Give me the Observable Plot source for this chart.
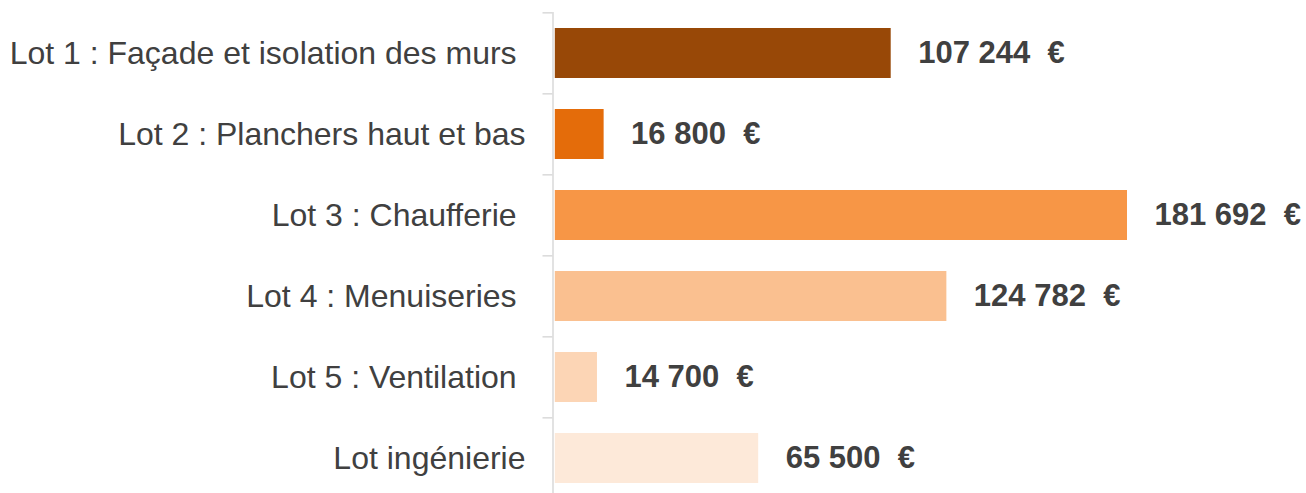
<!DOCTYPE html>
<html>
<head>
<meta charset="utf-8">
<script src="https://cdn.jsdelivr.net/npm/d3@7"></script>
<script src="https://cdn.jsdelivr.net/npm/@observablehq/plot@0.6"></script>
<style>
  html, body { margin: 0; padding: 0; background: #fff; }
  #chart svg { display: block; }
</style>
</head>
<body>
<div id="chart"></div>
<script>
const categories = [
  "Lot 1 : Façade et isolation des murs",
  "Lot 2 : Planchers haut et bas",
  "Lot 3 : Chaufferie",
  "Lot 4 : Menuiseries",
  "Lot 5 : Ventilation",
  "Lot ingénierie"
];
const labels = [
  "Lot 1 : Façade et isolation des murs\u00a0",
  "Lot 2 : Planchers haut et bas",
  "Lot 3 : Chaufferie\u00a0",
  "Lot 4 : Menuiseries\u00a0",
  "Lot 5 : Ventilation\u00a0",
  "Lot ingénierie"
];
const values = [107244, 16800, 181692, 124782, 14700, 65500];
const colors = ["#984807", "#E46C0A", "#F79646", "#FAC090", "#FCD5B5", "#FDE9D9"];

const data = categories.map((c, i) => ({cat: c, label: labels[i], value: values[i], color: colors[i]}));
const fmt = v => d3.format(",")(v).replace(/,/g, "\u00a0") + "\u00a0\u00a0€";

const yRange = [12, 500];
const step = (yRange[1] - yRange[0]) / categories.length;
const pad = 0.38;

const chart = Plot.plot({
  width: 1306,
  height: 493,
  marginTop: 12,
  marginBottom: 0,
  marginLeft: 550,
  marginRight: 179,
  style: {fontFamily: "'Liberation Sans', Arial, sans-serif", background: "#fff"},
  x: {domain: [0, 181692], range: [550.3, 1127], axis: null},
  y: {domain: categories, range: yRange, paddingInner: pad, paddingOuter: pad / 2, axis: null},
  marks: [
    Plot.barX(data, {y: "cat", x: "value", fill: "color", insetLeft: 4.5}),
    Plot.ruleX([0], {dx: 2.2, stroke: "#d9d9d9", strokeWidth: 1.5}),
    Plot.axisY({anchor: "left", text: null, label: null, tickSize: 10, dx: 2.5, dy: -step / 2, stroke: "#d9d9d9", strokeWidth: 1.5}),
    Plot.text(data, {y: "cat", frameAnchor: "left", text: "label", textAnchor: "end", dx: -25, fontSize: 32, fill: "#404040"}),
    Plot.text(data, {y: "cat", x: "value", text: d => fmt(d.value), textAnchor: "start", dx: 27, fontSize: 31, fontWeight: "bold", fill: "#404040"})
  ]
});
document.getElementById("chart").append(chart);
</script>
</body>
</html>
